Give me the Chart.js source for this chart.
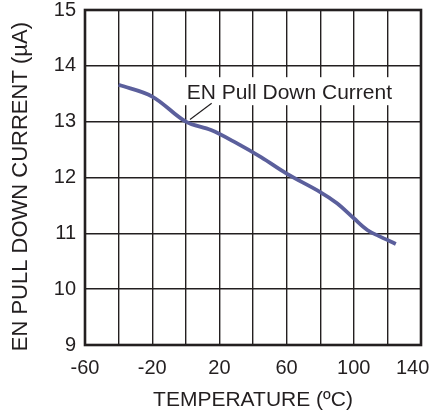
<!DOCTYPE html>
<html>
<head>
<meta charset="utf-8">
<script src="https://cdn.jsdelivr.net/npm/chart.js@4/dist/chart.umd.min.js"></script>
<style>
    html, body { margin: 0; padding: 0; background: #fff; }
    #wrap { width: 435px; height: 417px; }
</style>
</head>
<body>
<div id="wrap"><canvas id="current-chart"></canvas></div>
<script>
// temperature (°C) and EN pull down current (µA)
const temperatures = [-40, -20, 0, 15, 30, 45, 60, 80, 90, 100, 108, 115, 125];
const currents = [13.66, 13.45, 13.0, 12.85, 12.62, 12.36, 12.07, 11.74, 11.54, 11.27, 11.06, 10.95, 10.81];
const xTicks = [-60, -40, -20, 0, 20, 40, 60, 80, 100, 120, 140];
const xLabelled = [-60, -20, 20, 60, 100, 140];
const yTicks = [9, 10, 11, 12, 13, 14, 15];

const seriesLabel = 'EN Pull Down Current';
const labelAt = { x: 0.5, y: 13.51 };
const leaderFrom = { x: 2.5, y: 13.04 };
const leaderTo = { x: 15.4, y: 13.33 };

const ink = '#231f20';
const font = 'Liberation Sans, Arial, sans-serif';

const framePlugin = {
    id: 'frame',
    afterDatasetsDraw(chart) {
        const { ctx, chartArea: a, scales } = chart;
        const x = scales.x, y = scales.y;

        // label box and leader line
        ctx.save();
        ctx.font = `21px ${font}`;
        const tx = x.getPixelForValue(labelAt.x);
        const ty = y.getPixelForValue(labelAt.y);
        const w = ctx.measureText(seriesLabel).width;
        ctx.fillStyle = '#fff';
        ctx.fillRect(tx - 4, ty - 16, w + 8, 28);
        ctx.fillStyle = ink;
        ctx.textBaseline = 'middle';
        ctx.fillText(seriesLabel, tx, ty);
        ctx.strokeStyle = ink;
        ctx.lineWidth = 1.2;
        ctx.beginPath();
        ctx.moveTo(x.getPixelForValue(leaderFrom.x), y.getPixelForValue(leaderFrom.y));
        ctx.lineTo(x.getPixelForValue(leaderTo.x), y.getPixelForValue(leaderTo.y));
        ctx.stroke();

        // heavy frame round the plot
        ctx.lineWidth = 2.6;
        ctx.strokeStyle = ink;
        ctx.strokeRect(a.left, a.top, a.right - a.left, a.bottom - a.top);
        ctx.restore();
    }
};

const ctx = document.getElementById('current-chart').getContext('2d');
new Chart(ctx, {
    type: 'line',
    data: {
        datasets: [{
            label: seriesLabel,
            data: temperatures.map((t, i) => ({ x: t, y: currents[i] })),
            borderColor: '#5b5f9c',
            borderWidth: 3.8,
            pointRadius: 0,
            tension: 0.35,
            fill: false
        }]
    },
    options: {
        responsive: true,
        maintainAspectRatio: false,
        animation: false,
        devicePixelRatio: 1,
        layout: { padding: { left: 0, right: 14, top: 10, bottom: 0 } },
        plugins: { legend: { display: false }, tooltip: { enabled: false } },
        scales: {
            x: {
                type: 'linear',
                min: -60,
                max: 140,
                afterBuildTicks: s => { s.ticks = xTicks.map(v => ({ value: v })); },
                afterFit: s => { s.height = 72; s.paddingLeft = 0; s.paddingRight = 0; },
                grid: { color: ink, lineWidth: 1.4, drawTicks: false },
                border: { display: false },
                ticks: {
                    color: ink,
                    font: { family: font, size: 20 },
                    padding: 11,
                    maxRotation: 0,
                    autoSkip: false,
                    // last label sits a little inside the frame, as in the original
                    callback: v => xLabelled.includes(v) ? (v === 140 ? '140   ' : String(v)) : ''
                },
                title: {
                    display: true,
                    text: 'TEMPERATURE (ºC)',
                    color: ink,
                    font: { family: font, size: 21 },
                    padding: { top: 0, bottom: 4 }
                }
            },
            y: {
                type: 'linear',
                min: 9,
                max: 15,
                afterBuildTicks: s => { s.ticks = yTicks.map(v => ({ value: v })); },
                afterFit: s => { s.width = 85; s.paddingTop = 0; s.paddingBottom = 0; },
                grid: { color: ink, lineWidth: 1.4, drawTicks: false },
                border: { display: false },
                ticks: {
                    color: ink,
                    font: { family: font, size: 20 },
                    padding: 9
                },
                title: {
                    display: true,
                    text: 'EN PULL DOWN CURRENT (µA)   ',
                    color: ink,
                    font: { family: font, size: 22 },
                    padding: { top: 8, bottom: 0 }
                }
            }
        }
    },
    plugins: [framePlugin]
});
</script>
</body>
</html>
